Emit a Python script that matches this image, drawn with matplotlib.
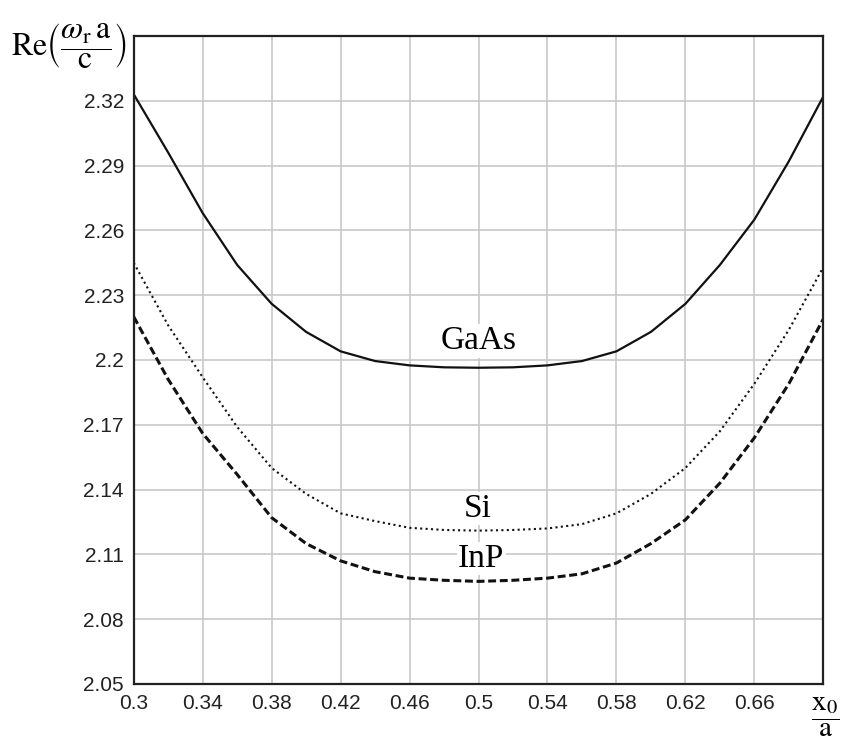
import numpy as np
import matplotlib.pyplot as plt

plt.rcParams['mathtext.fontset'] = 'stix'

x0_a = [0.30, 0.32, 0.34, 0.36, 0.38, 0.40, 0.42, 0.44, 0.46, 0.48, 0.50,
        0.52, 0.54, 0.56, 0.58, 0.60, 0.62, 0.64, 0.66, 0.68, 0.70]

gaas = [2.323, 2.296, 2.268, 2.244, 2.226, 2.213, 2.204, 2.1995, 2.1975, 2.1966, 2.1964,
        2.1966, 2.1975, 2.1995, 2.204, 2.213, 2.226, 2.244, 2.265, 2.292, 2.322]
si = [2.245, 2.216, 2.192, 2.169, 2.150, 2.138, 2.129, 2.1254, 2.1223, 2.1213, 2.121,
      2.1213, 2.122, 2.124, 2.129, 2.138, 2.150, 2.167, 2.189, 2.214, 2.243]
inp = [2.220, 2.191, 2.166, 2.147, 2.127, 2.115, 2.107, 2.102, 2.099, 2.098, 2.0975,
       2.098, 2.099, 2.101, 2.106, 2.115, 2.126, 2.143, 2.164, 2.189, 2.219]

xticks = [0.30, 0.34, 0.38, 0.42, 0.46, 0.50, 0.54, 0.58, 0.62, 0.66, 0.70]
xtick_labels = ['0.3', '0.34', '0.38', '0.42', '0.46', '0.5', '0.54', '0.58', '0.62', '0.66', '']
yticks = [2.05, 2.08, 2.11, 2.14, 2.17, 2.20, 2.23, 2.26, 2.29, 2.32, 2.35]
ytick_labels = ['2.05', '2.08', '2.11', '2.14', '2.17', '2.2', '2.23', '2.26', '2.29', '2.32', '']

fig = plt.figure(figsize=(8.41, 7.40), dpi=100)
ax = fig.add_axes([0.159, 0.0757, 0.820, 0.8757])

ax.plot(x0_a, gaas, color='#111111', lw=1.6, solid_joinstyle='miter')
ax.plot(x0_a, si, color='#111111', lw=1.5, linestyle=(0, (1, 1.6)))
ax.plot(x0_a, inp, color='#111111', lw=2.2, linestyle=(0, (2.6, 1.2)))

ax.set_xlim(0.30, 0.70)
ax.set_ylim(2.05, 2.35)
ax.set_xticks(xticks)
ax.set_xticklabels(xtick_labels)
ax.set_yticks(yticks)
ax.set_yticklabels(ytick_labels)
ax.tick_params(length=0, labelsize=15, colors='#222222', pad=7)
for lab in ax.get_xticklabels() + ax.get_yticklabels():
    lab.set_family('Liberation Sans')
ax.grid(True, color='#c8c8c8', lw=1.2)
ax.set_axisbelow(True)
for sp in ax.spines.values():
    sp.set_color('#222222')
    sp.set_linewidth(1.6)

box = dict(facecolor='white', edgecolor='none', pad=1)
ax.text(0.5, 2.2088, 'GaAs', family='Liberation Serif', fontsize=24,
        ha='center', va='center', bbox=box)
ax.text(0.4995, 2.1312, 'Si', family='Liberation Serif', fontsize=24,
        ha='center', va='center', bbox=box)
ax.text(0.5015, 2.1082, 'InP', family='Liberation Serif', fontsize=24,
        ha='center', va='center', bbox=box)

fig.text(0.082, 0.939, r'$\mathrm{Re}\left(\dfrac{\omega_{\mathrm{r}}\,\mathrm{a}}{\mathrm{c}}\right)$',
         fontsize=23, ha='center', va='center')
fig.text(0.981, 0.031, r'$\dfrac{\mathrm{x}_{0}}{\mathrm{a}}$',
         fontsize=21, ha='center', va='center')

fig.savefig('out.png', dpi=100)
